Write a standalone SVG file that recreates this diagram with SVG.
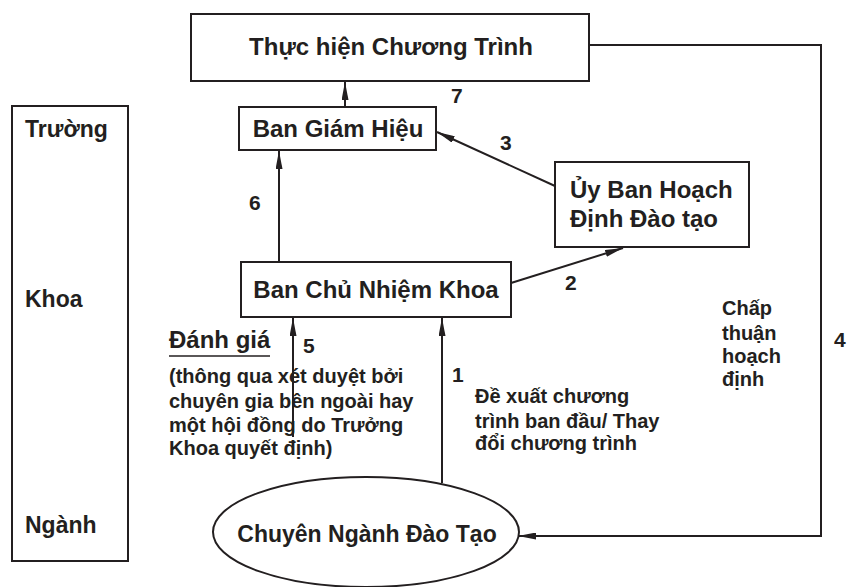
<svg xmlns="http://www.w3.org/2000/svg" width="852" height="587" viewBox="0 0 852 587">
<style>
text{font-family:"Liberation Sans",Arial,sans-serif;font-weight:bold;fill:#231f20}
.box{fill:#fff;stroke:#231f20;stroke-width:2}
.big{font-size:24px}
.lvl{font-size:23px}
.sm{font-size:20px}
.num{font-size:21px}
.c{text-anchor:middle}
.con{fill:none;stroke:#231f20;stroke-width:2}
</style>
<defs>
<marker id="ah" viewBox="0 0 18 7" markerWidth="18" markerHeight="7" refX="18" refY="3.5" orient="auto" markerUnits="userSpaceOnUse">
<path d="M0,0 L18,3.5 L0,7 z" fill="#231f20"/>
</marker>
</defs>
<g id="levels">
<rect class="box" x="12" y="106" width="116" height="455"/>
<text class="lvl" x="25" y="137">Trường</text>
<text class="lvl" x="25" y="307">Khoa</text>
<text class="lvl" x="25" y="533">Ngành</text>
</g>
<g id="connectors">
<path class="con" d="M589,45 H821 V536 H518" marker-end="url(#ah)"/>
<line class="con" x1="345" y1="107" x2="345" y2="82" marker-end="url(#ah)"/>
<line class="con" x1="279" y1="262" x2="279" y2="151" marker-end="url(#ah)"/>
<line class="con" x1="555" y1="186" x2="437" y2="132" marker-end="url(#ah)"/>
<line class="con" x1="511" y1="283" x2="623" y2="248" marker-end="url(#ah)"/>
<line class="con" x1="293" y1="437" x2="293" y2="318" marker-end="url(#ah)"/>
<line class="con" x1="442" y1="483" x2="442" y2="318" marker-end="url(#ah)"/>
<text class="num" x="451" y="103">7</text>
<text class="num" x="249" y="210">6</text>
<text class="num" x="500" y="150">3</text>
<text class="num" x="565" y="290">2</text>
<text class="num" x="303" y="353">5</text>
<text class="num" x="452" y="382">1</text>
<text class="num" x="834" y="347">4</text>
</g>
<g id="thuc-hien">
<rect class="box" x="191" y="14" width="398" height="67"/>
<text class="big c" x="391" y="55">Thực hiện Chương Trình</text>
</g>
<g id="ban-giam-hieu">
<rect class="box" x="239" y="107" width="197" height="43"/>
<text class="big c" x="338" y="137">Ban Giám Hiệu</text>
</g>
<g id="uy-ban">
<rect class="box" x="555" y="162" width="194" height="85"/>
<text class="big" x="570" y="198">Ủy Ban Hoạch</text>
<text class="big" x="570" y="227">Định Đào tạo</text>
</g>
<g id="ban-chu-nhiem">
<rect class="box" x="241" y="262" width="270" height="55"/>
<text class="big c" x="376" y="298">Ban Chủ Nhiệm Khoa</text>
</g>
<g id="chuyen-nganh">
<ellipse class="box" cx="366" cy="532" rx="153" ry="55"/>
<text class="lvl c" x="367" y="542">Chuyên Ngành Đào Tạo</text>
</g>
<g id="danh-gia">
<text class="big" x="169" y="348">Đánh giá</text>
<line x1="169" y1="356" x2="270" y2="356" stroke="#231f20" stroke-width="1.5"/>
<text class="sm" x="169" y="383">(thông qua xét duyệt bởi</text>
<text class="sm" x="169" y="408">chuyên gia bên ngoài hay</text>
<text class="sm" x="169" y="432">một hội đồng do Trưởng</text>
<text class="sm" x="169" y="455">Khoa quyết định)</text>
</g>
<g id="de-xuat">
<text class="sm" x="475" y="403">Đề xuất chương</text>
<text class="sm" x="475" y="428">trình ban đầu/ Thay</text>
<text class="sm" x="475" y="450">đổi chương trình</text>
</g>
<g id="chap-thuan">
<text class="sm" x="722" y="315">Chấp</text>
<text class="sm" x="722" y="340">thuận</text>
<text class="sm" x="722" y="363">hoạch</text>
<text class="sm" x="722" y="386">định</text>
</g>
</svg>
